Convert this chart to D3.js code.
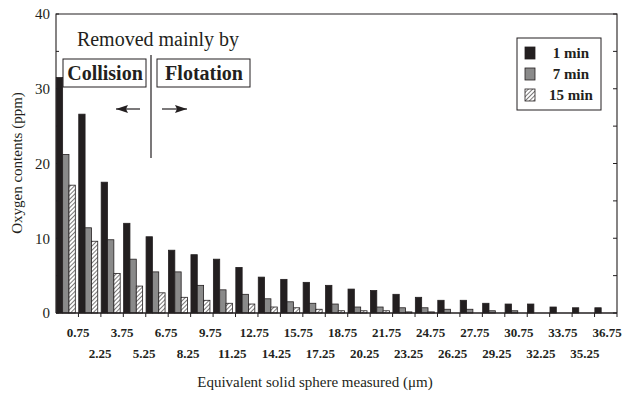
<html>
<head>
<meta charset="UTF-8">
<script src="https://d3js.org/d3.v7.min.js"></script>
<style>
body { margin: 0; background: #fff; }
svg text { font-family: "Liberation Serif", "Times New Roman", serif; fill: #231f20; }
</style>
</head>
<body>
<svg id="chart" width="624" height="396"></svg>
<script>
// datos
var sizes = ["0.75","2.25","3.75","5.25","6.75","8.25","9.75","11.25","12.75","14.25",
  "15.75","17.25","18.75","20.25","21.75","23.25","24.75","26.25","27.75","29.25",
  "30.75","32.25","33.75","35.25","36.75"];
var seriesNames = ["1 min", "7 min", "15 min"];
var min1  = [31.5, 26.6, 17.5, 12.0, 10.2, 8.4, 7.8, 7.2, 6.1, 4.8, 4.5, 4.1, 3.7, 3.2, 3.0, 2.5, 2.1, 1.7, 1.7, 1.3, 1.2, 1.2, 0.8, 0.7, 0.7];
var min7  = [21.2, 11.4, 9.8, 7.2, 5.5, 5.5, 3.7, 3.1, 2.5, 1.9, 1.5, 1.3, 1.2, 0.8, 0.8, 0.7, 0.7, 0.5, 0.5, 0.3, 0.3, 0, 0, 0, 0];
var min15 = [17.1, 9.6, 5.3, 3.6, 2.7, 2.1, 1.7, 1.3, 1.2, 0.8, 0.7, 0.5, 0.3, 0.3, 0.3, 0.15, 0.15, 0, 0, 0, 0, 0, 0, 0, 0];
var yTicks = [0, 10, 20, 30, 40];

var values = [min1, min7, min15];
var data = sizes.map((s, i) => ({size: s, vals: values.map(v => v[i])}));

var svg = d3.select("#chart"),
  margin = {top: 14, left: 56, bottom: 83, right: 7},
  width = +svg.attr("width"),
  height = +svg.attr("height");

var defs = svg.append("defs");
var pat = defs.append("pattern")
  .attr("id", "hatch")
  .attr("patternUnits", "userSpaceOnUse")
  .attr("width", 3).attr("height", 3)
  .attr("patternTransform", "rotate(45)");
pat.append("rect").attr("width", 3).attr("height", 3).attr("fill", "#fff");
pat.append("line").attr("x1", 0).attr("y1", 0).attr("x2", 0).attr("y2", 3)
  .attr("stroke", "#231f20").attr("stroke-width", 1.2);

var fills = ["#231f20", "#8a8a8a", "url(#hatch)"];

var x = d3.scaleBand()
  .domain(sizes)
  .range([margin.left, width - margin.right])
  .padding(0);

var x1 = d3.scaleBand()
  .domain(seriesNames)
  .range([0.3, 19.3])
  .padding(0);

var y = d3.scaleLinear()
  .domain([0, 40])
  .range([height - margin.bottom, margin.top]);

// escala para las etiquetas del eje x (no alineadas con las barras)
var xl = d3.scalePoint()
  .domain(sizes)
  .range([78, 607]);

// barras
var groups = svg.append("g").selectAll("g")
  .data(data)
  .join("g")
  .attr("transform", d => `translate(${x(d.size)},0)`);

groups.selectAll("rect")
  .data(d => d.vals.map((v, k) => ({key: seriesNames[k], k: k, v: v})).filter(e => e.v > 0))
  .join("rect")
  .attr("x", e => x1(e.key))
  .attr("y", e => y(e.v))
  .attr("width", x1.bandwidth())
  .attr("height", e => y(0) - y(e.v))
  .attr("fill", e => fills[e.k])
  .attr("stroke", "#231f20")
  .attr("stroke-width", 0.8);

// marco
svg.append("path")
  .attr("d", `M${margin.left},${y(0)}V${margin.top}H${width - margin.right}V${y(0)}`)
  .attr("fill", "none").attr("stroke", "#231f20").attr("stroke-width", 1.1);

// eje y izquierdo
var yAxis = svg.append("g")
  .attr("transform", `translate(${margin.left},0)`)
  .call(d3.axisLeft(y).tickValues(yTicks).tickSize(0).tickPadding(6));
yAxis.select(".domain").remove();
yAxis.selectAll("text").style("font-size", "15px").style("font-family", "Liberation Serif");

var minorTicks = d3.range(0, 41, 5);
svg.append("g").selectAll("line")
  .data(minorTicks)
  .join("line")
  .attr("x1", margin.left).attr("x2", margin.left + 3)
  .attr("y1", d => y(d)).attr("y2", d => y(d))
  .attr("stroke", "#231f20");
svg.append("g").selectAll("line")
  .data(minorTicks)
  .join("line")
  .attr("x1", width - margin.right).attr("x2", width - margin.right - 4)
  .attr("y1", d => y(d)).attr("y2", d => y(d))
  .attr("stroke", "#231f20");

// eje x
svg.append("line")
  .attr("x1", margin.left).attr("x2", width - margin.right)
  .attr("y1", y(0)).attr("y2", y(0))
  .attr("stroke", "#231f20").attr("stroke-width", 1.3);
svg.append("g").selectAll("line")
  .data(sizes)
  .join("line")
  .attr("x1", d => x(d) + x.bandwidth()).attr("x2", d => x(d) + x.bandwidth())
  .attr("y1", y(0)).attr("y2", y(0) + 4)
  .attr("stroke", "#231f20");

svg.append("g").selectAll("text")
  .data(sizes)
  .join("text")
  .attr("x", d => xl(d))
  .attr("y", (d, i) => i % 2 == 0 ? 337 : 358)
  .attr("text-anchor", "middle")
  .style("font-size", "13px")
  .style("font-weight", "bold")
  .text(d => d);

// titulos
svg.append("text")
  .attr("transform", "translate(22,163) rotate(-90)")
  .attr("text-anchor", "middle")
  .style("font-size", "15px")
  .text("Oxygen contents (ppm)");

svg.append("text")
  .attr("x", 315).attr("y", 387)
  .attr("text-anchor", "middle")
  .style("font-size", "15px")
  .text("Equivalent solid sphere measured  (\u03bcm)");

// anotaciones
svg.append("text")
  .attr("x", 158).attr("y", 46)
  .attr("text-anchor", "middle")
  .style("font-size", "20px")
  .text("Removed mainly by");

svg.append("rect").attr("x", 63).attr("y", 59).attr("width", 83).attr("height", 28)
  .attr("fill", "none").attr("stroke", "#231f20");
svg.append("text").attr("x", 105).attr("y", 80).attr("text-anchor", "middle")
  .style("font-size", "20px").style("font-weight", "bold").text("Collision");

svg.append("rect").attr("x", 157).attr("y", 59).attr("width", 93).attr("height", 28)
  .attr("fill", "none").attr("stroke", "#231f20");
svg.append("text").attr("x", 204).attr("y", 80).attr("text-anchor", "middle")
  .style("font-size", "20px").style("font-weight", "bold").text("Flotation");

svg.append("line").attr("x1", 151).attr("x2", 151).attr("y1", 55).attr("y2", 158)
  .attr("stroke", "#231f20").attr("stroke-width", 1.2);

defs.append("marker")
  .attr("id", "head")
  .attr("viewBox", "0 0 12 8")
  .attr("refX", 12).attr("refY", 4)
  .attr("markerWidth", 12).attr("markerHeight", 8)
  .attr("markerUnits", "userSpaceOnUse")
  .attr("orient", "auto")
  .append("path").attr("d", "M0,0L12,4L0,8L2,4Z").attr("fill", "#231f20");

svg.append("line").attr("x1", 140).attr("x2", 116).attr("y1", 109).attr("y2", 109)
  .attr("stroke", "#231f20").attr("stroke-width", 1.2).attr("marker-end", "url(#head)");
svg.append("line").attr("x1", 162).attr("x2", 187).attr("y1", 109).attr("y2", 109)
  .attr("stroke", "#231f20").attr("stroke-width", 1.2).attr("marker-end", "url(#head)");

// leyenda
var legend = svg.append("g");
legend.append("rect").attr("x", 517).attr("y", 38).attr("width", 84).attr("height", 72)
  .attr("fill", "#fff").attr("stroke", "#231f20");
var li = legend.selectAll("g.item")
  .data(seriesNames)
  .join("g").attr("class", "item")
  .attr("transform", (d, i) => `translate(0,${[53, 74, 95][i]})`);
li.append("rect").attr("x", 525).attr("y", -6).attr("width", 10).attr("height", 12)
  .attr("fill", (d, i) => fills[i]).attr("stroke", "#231f20").attr("stroke-width", 0.8);
li.append("text").attr("x", 571).attr("y", 5).attr("text-anchor", "middle")
  .style("font-size", "15px").style("font-weight", "bold").text(d => d);
</script>
</body>
</html>
